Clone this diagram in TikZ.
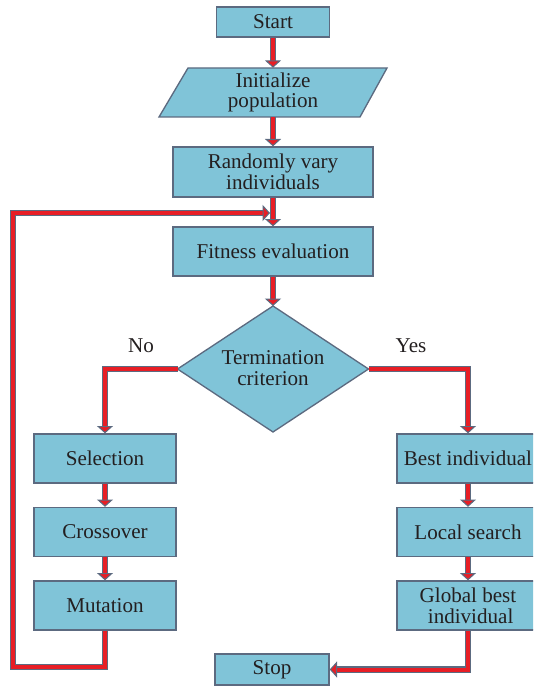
\documentclass[tikz,border=0pt]{standalone}
\usepackage{fontspec}
\setmainfont{Liberation Serif}
\usetikzlibrary{arrows.meta}
\definecolor{boxfill}{RGB}{128,196,216}
\definecolor{boxdraw}{RGB}{92,106,128}
\definecolor{conred}{RGB}{232,30,37}
\definecolor{txt}{RGB}{35,31,32}
\begin{document}
\begin{tikzpicture}[x=0.75pt,y=-0.75pt,
  shapeline/.style={draw=boxdraw, fill=boxfill, line width=1pt},
  box/.style={shapeline, inner sep=0pt, align=center, text=txt, font=\fontsize{15.8}{15.5}\selectfont},
  boxtext/.style={inner sep=0pt, align=center, text=txt, font=\fontsize{15.8}{15.5}\selectfont},
  conn/.style={draw=conred, line width=3pt, line join=miter,
    preaction={draw=boxdraw, line width=4.6pt, shorten >=4pt, arrows=-},
    -{Triangle[width=12pt,length=5.5pt,line width=0.8pt,fill=conred,color=boxdraw]}},
  lab/.style={text=txt, font=\fontsize{15.8}{15}\selectfont}]
\useasboundingbox (0,0) rectangle (533,688);
\clip (0,0) rectangle (533,688);

% nodes
\node[box, minimum width=84.75pt, minimum height=22.5pt] (start) at (273,22) {Start};
\draw[shapeline] (188,68) -- (387,68) -- (360,117) -- (159,117) -- cycle;
\node[boxtext, minimum width=150pt, minimum height=36.75pt] (init) at (273,92.5) {Initialize\\population};
\node[box, minimum width=150pt, minimum height=37.5pt] (rand) at (273,172) {Randomly vary\\individuals};
\node[box, minimum width=150pt, minimum height=36.75pt] (fit) at (273,251.5) {Fitness evaluation};

\coordinate (dt) at (273,306);
\coordinate (dr) at (368.5,369);
\coordinate (db) at (273,432);
\coordinate (dl) at (177.5,369);
\draw[shapeline] (dt) -- (dr) -- (db) -- (dl) -- cycle;
\node[boxtext] (term) at (273,368) {Termination\\criterion};

\node[box, minimum width=106.5pt, minimum height=36.75pt] (sel) at (105,458.5) {Selection};
\node[box, minimum width=106.5pt, minimum height=36.75pt] (cross) at (105,532) {Crossover};
\node[box, minimum width=106.5pt, minimum height=36.75pt] (mut) at (105,605.5) {Mutation};

\node[box, minimum width=106.5pt, minimum height=36.75pt] (best) at (468,458.5) {Best individual};
\node[box, minimum width=106.5pt, minimum height=36.75pt] (local) at (468,532) {Local search};
\node[box, minimum width=106.5pt, minimum height=36.75pt] (glob) at (468,605.5) {Global best\\\ individual};

\node[box, minimum width=85.5pt, minimum height=23.25pt] (stop) at (272,669.5) {Stop};

\node[lab] (no) at (141,346) {No};
\node[lab] (yes) at (411,346) {Yes};

\coordinate (lb) at (13,667);
\coordinate (lt) at (13,213);
\coordinate (li) at (270,213);

% connectors
\draw[conn] (start) -- (init);
\draw[conn] (init) -- (rand);
\draw[conn] (rand) -- (fit);
\draw[conn] (fit) -- (dt);
\draw[conn] (dl) -| (sel.north);
\draw[conn] (sel) -- (cross);
\draw[conn] (cross) -- (mut);
\draw[conn] (dr) -| (best.north);
\draw[conn] (best) -- (local);
\draw[conn] (local) -- (glob);
\draw[conn] (glob.south) |- (stop.east);
\draw[conn] (mut.south) |- (lb) -- (lt) -- (li);
\end{tikzpicture}
\end{document}
